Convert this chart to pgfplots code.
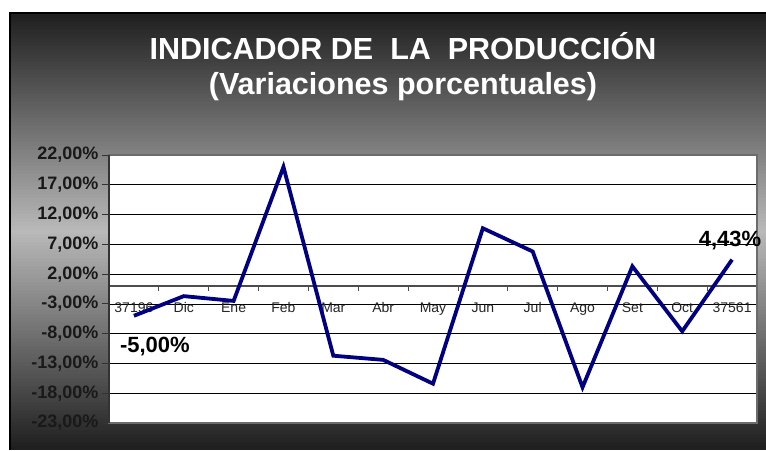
\documentclass[border=0pt]{standalone}
\usepackage{pgfplots}
\pgfplotsset{compat=1.18}
\usepackage{fontspec}
\setmainfont{Liberation Sans}
\definecolor{navyline}{RGB}{0,0,128}
\definecolor{bgdark}{RGB}{30,30,30}
\definecolor{bglight}{RGB}{185,185,185}
\begin{document}
\begin{tikzpicture}
\fill[white] (0pt,0pt) rectangle (766pt,450pt);
\foreach \i in {0,...,108}{
  \pgfmathsetmacro{\yb}{\i*4}
  \pgfmathsetmacro{\yt}{min(\i*4+4.6,437)}
  \pgfmathsetmacro{\mix}{100*(1-abs((\i*4+2)/437-0.5)*2)}
  \fill[bglight!\mix!bgdark] (10pt,\yb pt) rectangle (766pt,\yt pt);
}
\draw[black, line width=1.5pt] (10pt,0pt) -- (10pt,437pt) -- (766pt,437pt);
\node[white, font=\bfseries\fontsize{30.5}{30.5}\selectfont, anchor=base, inner sep=0pt] at (403pt,390pt) {INDICADOR DE\ \ LA\ \ PRODUCCIÓN};
\node[white, font=\bfseries\fontsize{30.5}{30.5}\selectfont, anchor=base, inner sep=0pt] at (403pt,355pt) {(Variaciones porcentuales)};
\begin{axis}[
  at={(109pt,27pt)}, anchor=south west,
  width=648pt, height=268pt, scale only axis,
  xmin=-0.5, xmax=12.5, ymin=-23, ymax=22,
  clip=false,
  axis background/.style={fill=white},
  axis x line=middle, axis y line=left,
  axis line style={-, draw=black!70, line width=1.2pt},
  tick align=outside,
  major tick length=7pt,
  minor tick length=5pt,
  ytick={-23,-18,...,22},
  yticklabels={{-23,00\%},{-18,00\%},{-13,00\%},{-8,00\%},{-3,00\%},{2,00\%},{7,00\%},{12,00\%},{17,00\%},{22,00\%}},
  yticklabel style={font=\bfseries\fontsize{18}{18}\selectfont, text=black!90},
  y tick style={draw=black!80, line width=0.8pt},
  xtick={0,...,12},
  xticklabels={37196,Dic,Ene,Feb,Mar,Abr,May,Jun,Jul,Ago,Set,Oct,37561},
  xticklabel style={font=\fontsize{14}{14}\selectfont, text=black!85, yshift=-6pt},
  major x tick style={draw=none},
  minor xtick={0.5,1.5,...,12.5},
  minor x tick style={draw=black!70, line width=0.8pt},
  ymajorgrids,
  major grid style={black, line width=0.7pt},
]
\addplot[navyline, line width=3.8pt, line join=miter, mark=none] coordinates {
  (0,-5.00) (1,-1.7) (2,-2.5) (3,20.0) (4,-11.7) (5,-12.4) (6,-16.4)
  (7,9.7) (8,5.8) (9,-17.0) (10,3.3) (11,-7.6) (12,4.43)
};
\draw[gray!85!black, line width=2.2pt] (rel axis cs:0,0) rectangle (rel axis cs:1,1);
\draw[black!80, line width=1.2pt] (rel axis cs:0,0) -- (rel axis cs:0,1);
\node[font=\bfseries\fontsize{22}{22}\selectfont, text=black] at (axis cs:0.42,-10.2) {-5,00\%};
\node[font=\bfseries\fontsize{22}{22}\selectfont, text=black] at (axis cs:11.96,7.7) {4,43\%};
\end{axis}
\pgfresetboundingbox
\useasboundingbox (0pt,0pt) rectangle (766pt,450pt);
\end{tikzpicture}
\end{document}
